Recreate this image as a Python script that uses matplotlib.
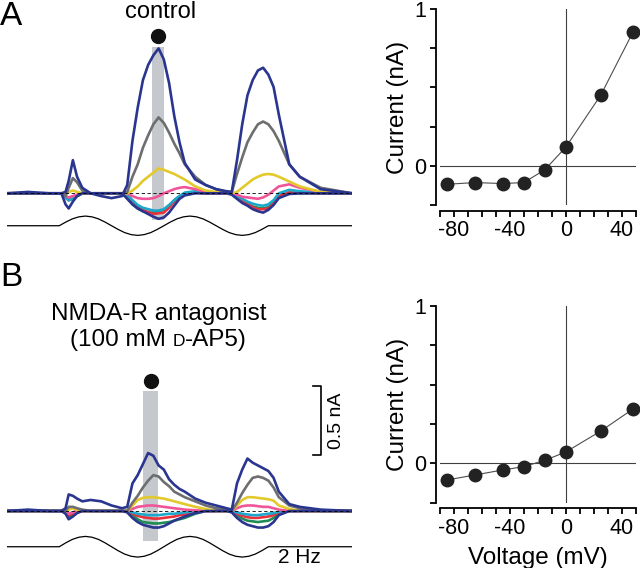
import numpy as np
import matplotlib
matplotlib.use("Agg")
import matplotlib.pyplot as plt
from matplotlib.offsetbox import TextArea, HPacker, AnnotationBbox

plt.rcParams['font.family'] = ['Liberation Sans', 'DejaVu Sans']
plt.rcParams['axes.unicode_minus'] = False

W, H = 640, 568

# ---- I-V data (read at the grey bar) ----
voltage = [-85, -65, -45, -30, -15, 0, 25, 48]
current_control = [-0.118, -0.107, -0.113, -0.107, -0.026, 0.118, 0.45, 0.852]
current_ap5 = [-0.106, -0.074, -0.042, -0.021, 0.019, 0.072, 0.205, 0.345]

# ---- current traces (nA), sampled on a common time grid (s) ----
t_grid = [0.0, 0.1, 0.2, 0.26, 0.28, 0.295, 0.315, 0.335, 0.36, 0.4,
          0.45, 0.5, 0.55, 0.575, 0.6, 0.625, 0.65, 0.675, 0.7, 0.725,
          0.75, 0.775, 0.8, 0.825, 0.85, 0.9, 0.95, 1.0, 1.05, 1.075,
          1.1, 1.125, 1.15, 1.175, 1.2, 1.225, 1.25, 1.275, 1.3, 1.35,
          1.4, 1.5, 1.65]

ctl_p50 = [0, 0.01, 0, 0, 0.01, 0.09, 0.24, 0.12, 0.04, 0,
           -0.02, -0.035, -0.02, 0.06, 0.38, 0.62, 0.82, 0.93, 1.0, 1.05,
           0.97, 0.80, 0.56, 0.37, 0.22, 0.10, 0.06, 0.03, 0.015, 0.01,
           0.24, 0.5, 0.71, 0.82, 0.89, 0.91, 0.86, 0.77, 0.57, 0.21,
           0.12, 0.03, 0]
ctl_p25 = [0, 0, 0, 0, -0.02, 0.04, 0.11, 0.08, 0.02, 0,
           0, 0, 0, 0.01, 0.12, 0.21, 0.33, 0.42, 0.50, 0.55,
           0.51, 0.44, 0.36, 0.29, 0.21, 0.12, 0.06, 0.03, 0.01, 0.01,
           0.14, 0.26, 0.37, 0.44, 0.50, 0.52, 0.50, 0.45, 0.38, 0.21,
           0.12, 0.04, 0]
ctl_0 = [0, 0, 0, 0, 0, 0.01, 0.02, 0.01, 0, 0,
         0, 0, 0, 0, 0.02, 0.05, 0.09, 0.12, 0.15, 0.18,
         0.17, 0.155, 0.14, 0.12, 0.10, 0.05, 0.02, 0.01, 0, 0,
         0.01, 0.04, 0.07, 0.10, 0.12, 0.135, 0.14, 0.135, 0.12, 0.085,
         0.05, 0.01, 0]
ctl_m15 = [0, 0, 0, 0, -0.02, -0.03, -0.02, -0.01, 0, 0,
           0, 0, 0, 0, -0.02, -0.035, -0.04, -0.04, -0.035, -0.02,
           0, 0.015, 0.03, 0.04, 0.045, 0.03, 0.01, 0, 0, 0,
           -0.01, -0.025, -0.03, -0.035, -0.04, -0.03, -0.01, 0.02, 0.05, 0.065,
           0.04, 0.01, 0]
ctl_m30 = [0, 0, 0, 0, -0.03, -0.05, -0.04, -0.02, 0, 0,
           0, 0, 0, -0.01, -0.05, -0.085, -0.105, -0.115, -0.125, -0.125,
           -0.115, -0.085, -0.05, -0.02, 0.005, 0.015, 0.005, 0, 0, 0,
           -0.02, -0.04, -0.06, -0.075, -0.085, -0.09, -0.08, -0.05, 0, 0.025,
           0.015, 0.003, 0]
ctl_m45 = [0, 0, 0, 0, -0.03, -0.05, -0.04, -0.02, 0, 0,
           0, 0, 0, -0.01, -0.055, -0.095, -0.12, -0.135, -0.15, -0.145,
           -0.14, -0.105, -0.06, -0.025, -0.005, 0.007, 0, 0, 0, 0,
           -0.025, -0.05, -0.08, -0.1, -0.115, -0.115, -0.11, -0.075, -0.02, 0.007,
           0.005, 0, 0]
ctl_m65 = [0, 0, 0, 0, -0.03, -0.05, -0.04, -0.02, 0, 0,
           0, 0, 0, -0.03, -0.08, -0.11, -0.13, -0.14, -0.14, -0.13,
           -0.12, -0.09, -0.05, -0.02, -0.005, 0.005, 0, 0, 0, 0,
           -0.025, -0.05, -0.075, -0.095, -0.105, -0.11, -0.1, -0.07, -0.025, 0,
           0, 0, 0]
ctl_m85 = [0, 0, 0, 0, -0.08, -0.11, -0.06, -0.02, 0, 0,
           0, 0, 0, -0.04, -0.08, -0.11, -0.13, -0.15, -0.17, -0.185,
           -0.175, -0.14, -0.09, -0.04, -0.015, 0, 0, 0, 0, -0.01,
           -0.04, -0.07, -0.09, -0.115, -0.13, -0.14, -0.12, -0.085, -0.035, -0.005,
           0, 0, 0]

ap5_p50 = [0, 0.01, 0, 0, 0.02, 0.12, 0.11, 0.09, 0.07, 0.08,
           0.07, 0.04, 0.02, 0.03, 0.2, 0.26, 0.34, 0.42, 0.40, 0.33,
           0.30, 0.23, 0.19, 0.16, 0.14, 0.09, 0.06, 0.04, 0.02, 0.01,
           0.2, 0.3, 0.38, 0.35, 0.33, 0.31, 0.29, 0.24, 0.14, 0.05,
           0.03, 0.01, 0]
ap5_p25 = [0, 0, 0, 0, 0, 0.03, 0.03, 0.02, 0.01, 0,
           0, 0, 0, 0, 0.06, 0.11, 0.17, 0.22, 0.26, 0.25,
           0.21, 0.18, 0.14, 0.12, 0.10, 0.07, 0.04, 0.02, 0.01, 0,
           0.06, 0.13, 0.19, 0.24, 0.25, 0.24, 0.22, 0.17, 0.10, 0.04,
           0.02, 0, 0]
ap5_0 = [0, 0, 0, 0, 0, 0.01, 0.02, 0.01, 0, 0,
         0, 0, 0, 0, 0.04, 0.08, 0.095, 0.10, 0.10, 0.095,
         0.09, 0.08, 0.07, 0.06, 0.05, 0.03, 0.015, 0, 0, 0,
         0.04, 0.08, 0.10, 0.10, 0.095, 0.09, 0.085, 0.075, 0.04, 0.015,
         0, 0, 0]
ap5_m15 = [0, 0, 0, 0, 0, -0.02, -0.01, 0, 0, 0,
           0, 0, 0, 0, 0.015, 0.03, 0.035, 0.04, 0.04, 0.035,
           0.03, 0.025, 0.02, 0.015, 0.01, 0.005, 0, 0, 0, 0,
           0.02, 0.035, 0.04, 0.04, 0.035, 0.03, 0.03, 0.02, 0.01, 0,
           0, 0, 0]
ap5_m30 = [0, 0, 0, 0, 0, -0.02, -0.01, 0, 0, 0,
           0, 0, 0, 0, -0.01, -0.02, -0.025, -0.03, -0.03, -0.03,
           -0.025, -0.02, -0.02, -0.015, -0.01, 0, 0, 0, 0, 0,
           -0.01, -0.02, -0.025, -0.03, -0.03, -0.025, -0.02, -0.015, -0.005, 0,
           0, 0, 0]
ap5_m45 = [0, 0, 0, 0, 0, -0.03, -0.02, 0, 0, 0,
           0, 0, 0, 0, -0.02, -0.035, -0.045, -0.05, -0.055, -0.055,
           -0.05, -0.045, -0.04, -0.03, -0.025, -0.01, 0, 0, 0, 0,
           -0.02, -0.035, -0.045, -0.05, -0.05, -0.045, -0.04, -0.03, -0.01, 0,
           0, 0, 0]
ap5_m65 = [0, 0, 0, 0, 0, -0.04, -0.03, -0.01, 0, 0,
           0, 0, 0, 0, -0.03, -0.06, -0.08, -0.085, -0.09, -0.09,
           -0.085, -0.08, -0.07, -0.06, -0.05, -0.02, 0, 0, 0, 0,
           -0.03, -0.055, -0.07, -0.075, -0.08, -0.075, -0.07, -0.05, -0.02, 0,
           0, 0, 0]
ap5_m85 = [0, 0, 0, 0, -0.02, -0.06, -0.04, -0.015, 0, 0,
           0, 0, 0, -0.01, -0.05, -0.08, -0.10, -0.11, -0.12, -0.12,
           -0.11, -0.09, -0.07, -0.055, -0.04, -0.015, 0, 0, 0, -0.01,
           -0.05, -0.08, -0.10, -0.11, -0.12, -0.12, -0.11, -0.08, -0.03, 0,
           0, 0, 0]

trace_colors = ['#1f8c55', '#e9323b', '#1ba8cc', '#f0559a',
                '#e3c92b', '#6d6e70', '#2a3590', '#2a3590']
ctl_traces = [ctl_m65, ctl_m45, ctl_m30, ctl_m15, ctl_0, ctl_p25, ctl_p50, ctl_m85]
ap5_traces = [ap5_m65, ap5_m45, ap5_m30, ap5_m15, ap5_0, ap5_p25, ap5_p50, ap5_m85]

# stimulus: 2 Hz, two cycles, read at 1/16-cycle steps (relative amplitude)
stim_on, stim_off, t_end = 0.25, 1.25, 1.65
stim_shape = [0, 0.38, 0.71, 0.92, 1, 0.92, 0.71, 0.38, 0, -0.38, -0.71, -0.92,
              -1, -0.92, -0.71, -0.38, 0, 0.38, 0.71, 0.92, 1, 0.92, 0.71, 0.38,
              0, -0.38, -0.71, -0.92, -1, -0.92, -0.71, -0.38, 0]

# analysis window (grey bar) per panel, s
win_ctl = (0.692, 0.753)
win_ap5 = (0.652, 0.721)


def px_rect(x0, y0, x1, y1):
    return [x0 / W, 1 - y1 / H, (x1 - x0) / W, (y1 - y0) / H]


fig = plt.figure(figsize=(W / 100, H / 100), dpi=100)


def trace_panel(rect, traces, win, bar_top, stim_base, stim_amp):
    ax = fig.add_axes(rect)
    ax.set_xlim(0, t_end)
    ax.set_ylim(-0.35, 1.2)
    ax.axis('off')
    ax.axvspan(win[0], win[1], ymin=(stim_base + 0.04 + 0.35) / 1.55,
               ymax=(bar_top + 0.35) / 1.55, color='#c5c8cd', lw=0, zorder=1)
    for vals, c in zip(traces, trace_colors):
        ax.plot(t_grid, vals, color=c, lw=1.9, zorder=3, solid_joinstyle='round')
    ax.plot([0, t_end], [0, 0], color='k', lw=0.6, dashes=(4, 3), zorder=4)
    st = [0] + list(np.linspace(stim_on, stim_off, len(stim_shape))) + [t_end]
    sv = [stim_base] + [stim_base + stim_amp * s for s in stim_shape] + [stim_base]
    ax.plot(st, sv, color='k', lw=0.9, zorder=3)
    ax.plot([(win[0] + win[1]) / 2], [bar_top + 0.075], 'o', color='#111111',
            ms=10, zorder=5, clip_on=False)
    return ax


ax_a = trace_panel(px_rect(7, 27.7, 352, 241.6), ctl_traces, win_ctl, 1.062, -0.235, 0.07)
ax_b = trace_panel(px_rect(7, 345.4, 352, 559.3), ap5_traces, win_ap5, 0.87, -0.259, 0.075)

# scale bar (0.5 nA) and frequency label in panel B
sb_x, sb_top = 1.501, 0.906
ax_b.plot([sb_x - 0.037, sb_x, sb_x, sb_x - 0.037], [sb_top, sb_top, sb_top - 0.5, sb_top - 0.5],
          color='k', lw=1.2, clip_on=False)
ax_b.text(1.578, sb_top - 0.25, '0.5 nA', rotation=90, ha='center', va='center', fontsize=14)
fig.text(299 / W, 1 - 567 / H, '2 Hz', ha='center', va='bottom', fontsize=15)


def iv_panel(rect, cur, xlabel):
    ax = fig.add_axes(rect)
    ax.set_xlim(-90, 50)
    ax.set_ylim(-0.25, 1)
    ax.axhline(0, color='0.25', lw=0.8, zorder=1)
    ax.axvline(0, color='0.25', lw=0.8, zorder=1)
    ax.plot(voltage, cur, color='0.3', lw=0.8, zorder=2, clip_on=False)
    ax.plot(voltage, cur, 'o', color='#222222', ms=9, zorder=3, clip_on=False)
    for s in ['top', 'right']:
        ax.spines[s].set_visible(False)
    ax.spines['left'].set_position(('outward', 2.7))
    ax.spines['bottom'].set_position(('outward', 4))
    for s in ['left', 'bottom']:
        ax.spines[s].set_linewidth(1.3)
    ax.set_yticks([-0.25, 0, 0.25, 0.5, 0.75, 1])
    ax.set_yticklabels(['', '0', '', '', '', '1'])
    ax.set_xticks(list(range(-90, 51, 10)))
    ax.set_xticklabels(['' if v not in (-80, -40, 0, 40) else str(v) for v in range(-90, 51, 10)])
    ax.tick_params(direction='out', length=4, width=1.3, labelsize=15.5, pad=3)
    ax.set_ylabel('Current (nA)', fontsize=17.5, labelpad=4)
    if xlabel:
        ax.set_xlabel(xlabel, fontsize=17.5, labelpad=6)
    return ax


iv_panel(px_rect(439.7, 9, 635.7, 205), current_control, None)
iv_panel(px_rect(439.7, 306, 635.7, 502.7), current_ap5, 'Voltage (mV)')

# titles and panel letters
fig.text(0.0, 1 - 1 / H, 'A', fontsize=24, ha='left', va='top')
fig.text(0.0, 1 - 262 / H, 'B', fontsize=24, ha='left', va='top')
fig.text(161 / W, 1 - 18 / H, 'control', fontsize=17, ha='center', va='baseline')
fig.text(159 / W, 1 - 320 / H, 'NMDA-R antagonist', fontsize=17.5, ha='center', va='baseline')

parts = HPacker(children=[TextArea('(100 mM ', textprops=dict(fontsize=17.5)),
                          TextArea('D', textprops=dict(fontsize=12.5)),
                          TextArea('-AP5)', textprops=dict(fontsize=17.5))],
                align='baseline', pad=0, sep=0)
fig.add_artist(AnnotationBbox(parts, (158 / W, 1 - 340 / H), xycoords='figure fraction',
                              frameon=False, box_alignment=(0.5, 0.5)))

fig.savefig('out.png', dpi=100)
